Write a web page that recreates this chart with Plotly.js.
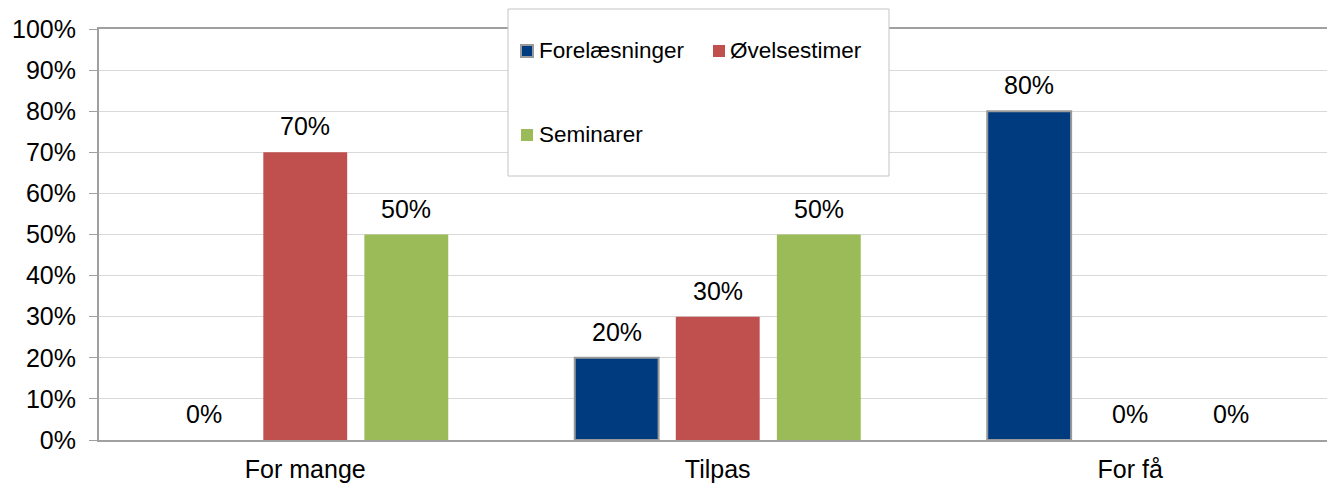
<!DOCTYPE html>
<html>
<head>
<meta charset="utf-8">
<script src="https://cdn.plot.ly/plotly-3.0.1.min.js"></script>
<style>html,body{margin:0;padding:0;background:#fff;}#chart{width:1327px;height:484px;}</style>
</head>
<body>
<div id="chart"></div>
<script>
const categories = ["For mange", "Tilpas", "For få"];
const seriesNames = ["Forelæsninger", "Øvelsestimer", "Seminarer"];
const forelaesninger = [0, 0.2, 0.8];
const oevelsestimer = [0.7, 0.3, 0];
const seminarer = [0.5, 0.5, 0];
const colors = ["#003B80", "#C0504D", "#9BBB59"];

const W = 1327, H = 484;
const M = {l: 99, r: 0, t: 29, b: 44};
const pw = W - M.l - M.r, ph = H - M.t - M.b;
const px = x => (x - M.l) / pw;
const py = y => (H - M.b - y) / ph;
const BARGAP = 0.265, GROUPGAP = 0.17;

const FONT = "Liberation Sans, Arial, sans-serif";
const values = [forelaesninger, oevelsestimer, seminarer];
const traces = values.map((v, i) => ({
  type: "bar",
  name: seriesNames[i],
  x: categories,
  y: v,
  marker: {color: colors[i], line: {color: "#9a9a9a", width: v.map(d => (i === 0 && d > 0) ? 2 : 0)}},
  hoverinfo: "skip"
}));

const slot = (1 - BARGAP) / 3;
const labelAnn = [];
values.forEach((v, i) => v.forEach((d, j) => labelAnn.push({
  xref: "x", yref: "y", x: j + (i - 1) * slot, y: d, yshift: 26,
  xanchor: "center", yanchor: "middle", showarrow: false,
  text: Math.round(d * 100) + "%", font: {family: FONT, size: 25, color: "#000"}
})));

const shapes = [
  {type: "rect", xref: "paper", yref: "paper", x0: px(508), x1: px(889), y0: py(176), y1: py(9),
   fillcolor: "#fff", line: {color: "#c4c4c4", width: 1}, layer: "above"},
  {type: "rect", xref: "paper", yref: "paper", x0: px(521), x1: px(533), y0: py(57), y1: py(45),
   fillcolor: colors[0], line: {color: "#9a9a9a", width: 2}, layer: "above"},
  {type: "rect", xref: "paper", yref: "paper", x0: px(713), x1: px(725), y0: py(57), y1: py(45),
   fillcolor: colors[1], line: {width: 0}, layer: "above"},
  {type: "rect", xref: "paper", yref: "paper", x0: px(521), x1: px(533), y0: py(141), y1: py(129),
   fillcolor: colors[2], line: {width: 0}, layer: "above"}
];
const legendPos = [[537, 50], [728, 50], [537, 134]];
const legendAnn = seriesNames.map((n, i) => ({
  xref: "paper", yref: "paper", x: px(legendPos[i][0]), y: py(legendPos[i][1]),
  xanchor: "left", yanchor: "middle", text: n, showarrow: false,
  font: {family: FONT, size: 22.5, color: "#000"}
}));

const layout = {
  width: W, height: H,
  margin: M,
  paper_bgcolor: "#fff", plot_bgcolor: "#fff",
  barmode: "group", bargap: BARGAP, bargroupgap: GROUPGAP,
  showlegend: false,
  font: {family: FONT, size: 25, color: "#000"},
  xaxis: {
    range: [-0.5, 2.477], showline: true, mirror: true, linecolor: "#a0a0a0", linewidth: 2,
    ticks: "", showgrid: false, ticklabelstandoff: 6,
    tickfont: {family: FONT, size: 25, color: "#000"}, fixedrange: true
  },
  yaxis: {
    range: [0, 1], dtick: 0.1, tickformat: ".0%", showline: true, linecolor: "#a0a0a0", linewidth: 2,
    ticks: "outside", ticklen: 8, tickcolor: "#a0a0a0", tickwidth: 1, ticklabelstandoff: 8,
    gridcolor: "#d9d9d9", gridwidth: 1, zeroline: false,
    tickfont: {family: FONT, size: 25, color: "#000"}, fixedrange: true
  },
  shapes: shapes,
  annotations: labelAnn.concat(legendAnn)
};

Plotly.newPlot("chart", traces, layout, {displayModeBar: false, staticPlot: true});
</script>
</body>
</html>
